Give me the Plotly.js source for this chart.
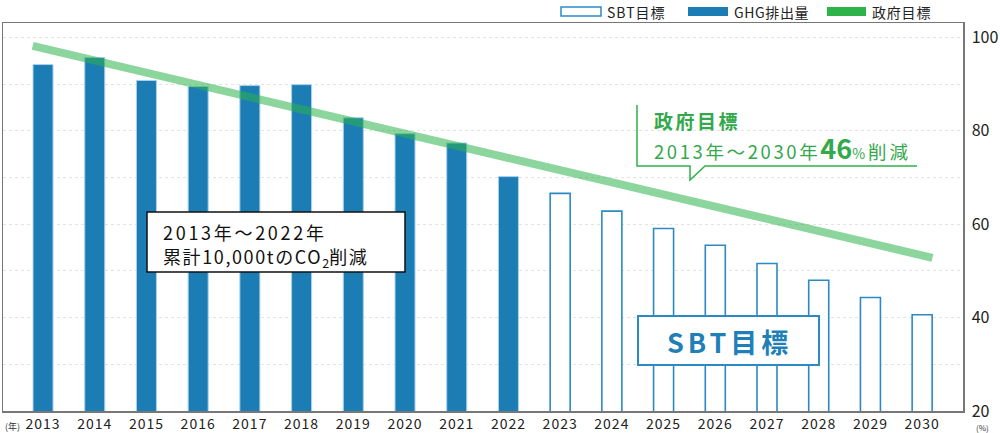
<!DOCTYPE html>
<html>
<head>
<meta charset="utf-8">
<script src="https://cdn.plot.ly/plotly-3.0.1.min.js"></script>
<style>html,body{margin:0;padding:0;background:#fff;}#chart{width:1000px;height:433px;}</style>
</head>
<body>
<div id="chart"></div>
<script>
// ---- data ----
const ghgYears = [2013, 2014, 2015, 2016, 2017, 2018, 2019, 2020, 2021, 2022];
const ghgValues = [94.2, 95.7, 90.8, 89.5, 89.7, 89.9, 82.8, 79.4, 77.4, 70.2];
const sbtYears = [2023, 2024, 2025, 2026, 2027, 2028, 2029, 2030];
const sbtValues = [66.6, 62.8, 59.1, 55.5, 51.6, 48.0, 44.3, 40.6];
const govYears = [2012.8, 2030.2];
const govValues = [98.2, 52.8];
const xTickYears = [2013,2014,2015,2016,2017,2018,2019,2020,2021,2022,2023,2024,2025,2026,2027,2028,2029,2030];
const yTickVals = [20, 40, 60, 80, 100];

const FONT = '"Noto Sans CJK JP", "Noto Sans", sans-serif';
const BLUE = '#1c7db5';
const OUTLINE = '#2b8ac6';
const GREEN = '#2db34a';
const GREEN_TXT = '#34a84c';

// pixel -> paper helpers (plot area: x 3..963, y 23..411)
const L = 3, R = 963, T = 23, B = 411;
const px = v => (v - L) / (R - L);
const py = v => (B - v) / (B - T);
const sp = (t, s) => `<span style="letter-spacing:${s}px">${t}</span>`;

const traces = [
  {type:'bar', x: sbtYears, y: sbtValues, width: 0.387,
   marker:{color:'#ffffff', line:{color: OUTLINE, width: 1.6}}, showlegend:false, hoverinfo:'skip'},
  {type:'bar', x: ghgYears, y: ghgValues, width: 0.387,
   marker:{color: BLUE, line:{color:'#a9d1ec', width: 1}}, showlegend:false, hoverinfo:'skip'},
  {type:'scatter', mode:'lines', x: govYears, y: govValues,
   line:{color:'rgba(45,179,74,0.55)', width: 8}, showlegend:false, hoverinfo:'skip'}
];

const shapes = [
  // legend swatches
  {type:'rect', xref:'paper', yref:'paper', x0:px(561), x1:px(601), y0:py(16), y1:py(7),
   line:{color: OUTLINE, width:1.5}, fillcolor:'#fff'},
  {type:'rect', xref:'paper', yref:'paper', x0:px(688), x1:px(728), y0:py(16), y1:py(7),
   line:{width:0}, fillcolor: BLUE},
  {type:'rect', xref:'paper', yref:'paper', x0:px(827), x1:px(866), y0:py(16), y1:py(7),
   line:{width:0}, fillcolor: GREEN},
  // green callout
  {type:'path', xref:'paper', yref:'paper',
   path: `M ${px(637)},${py(105)} L ${px(637)},${py(166)} L ${px(690)},${py(166)} L ${px(690)},${py(180)} L ${px(705)},${py(166)} L ${px(917)},${py(166)}`,
   line:{color: GREEN, width: 1.5}},
  // SBT box
  {type:'rect', xref:'paper', yref:'paper', x0:px(638), x1:px(819), y0:py(365), y1:py(316),
   line:{color: OUTLINE, width: 2}, fillcolor:'#fff', layer:'above'},
  // black box
  {type:'rect', xref:'paper', yref:'paper', x0:px(147), x1:px(405), y0:py(272), y1:py(212),
   line:{color:'#111', width: 1.5}, fillcolor:'#fff', layer:'above'}
];

const annotations = [
  // legend texts
  {xref:'paper', yref:'paper', x:px(605), y:py(12), xanchor:'left', yanchor:'middle', align:'left', showarrow:false,
   text:sp('SBT目標', 1), font:{family:FONT, size:14, color:'#222'}},
  {xref:'paper', yref:'paper', x:px(732), y:py(12), xanchor:'left', yanchor:'middle', align:'left', showarrow:false,
   text:sp('GHG排出量', 0.6), font:{family:FONT, size:14, color:'#222'}},
  {xref:'paper', yref:'paper', x:px(870), y:py(12), xanchor:'left', yanchor:'middle', align:'left', showarrow:false,
   text:sp('政府目標', 0.8), font:{family:FONT, size:14, color:'#222'}},
  // black box text
  {xref:'paper', yref:'paper', x:px(161), y:py(232), xanchor:'left', yanchor:'middle', align:'left', showarrow:false,
   text:sp('2013年～2022年', 2.7), font:{family:FONT, size:18, color:'#111'}},
  {xref:'paper', yref:'paper', x:px(161), y:py(257), xanchor:'left', yanchor:'middle', align:'left', showarrow:false,
   text:sp('累計10,000tのCO', 1.6) + '<sub>2</sub>' + sp('削減', 1.6), font:{family:FONT, size:18, color:'#111'}},
  // green callout text
  {xref:'paper', yref:'paper', x:px(652), y:py(120), xanchor:'left', yanchor:'middle', align:'left', showarrow:false,
   text:'<b>' + sp('政府目標', 2.5) + '</b>', font:{family:FONT, size:19, color: GREEN_TXT}},
  {xref:'paper', yref:'paper', x:px(652), y:py(147), xanchor:'left', yanchor:'middle', align:'left', showarrow:false,
   text: sp('2013年～2030年', 2.6) + '<span style="font-size:27px"><b>46</b></span><span style="font-size:14px;letter-spacing:3px">%</span>' + sp('削減', 3),
   font:{family:FONT, size:18.5, color: GREEN_TXT}},
  // SBT box text
  {xref:'paper', yref:'paper', x:px(729), y:py(341), xanchor:'center', yanchor:'middle', showarrow:false,
   text:'<b>' + sp('SBT目標', 4) + '</b>', font:{family:FONT, size:27, color: '#1f80b8'}},
  // unit labels
  {xref:'paper', yref:'paper', x:px(12), y:py(426), xanchor:'center', yanchor:'middle', showarrow:false,
   text:'(年)', font:{family:FONT, size:9, color:'#333'}},
  {xref:'paper', yref:'paper', x:px(983), y:py(427), xanchor:'center', yanchor:'middle', showarrow:false,
   text:'(%)', font:{family:FONT, size:8, color:'#333'}}
];

const layout = {
  width: 1000, height: 433,
  margin: {l: L, r: 1000 - R, t: T, b: 433 - B, pad: 0},
  paper_bgcolor: '#fff', plot_bgcolor: '#fff',
  barmode: 'overlay',
  showlegend: false,
  font: {family: FONT, color: '#222'},
  xaxis: {
    range: [2012.226, 2030.79], tickvals: xTickYears, ticktext: xTickYears.map(y => sp(String(y), 1)),
    showgrid: false, zeroline: false, showline: true, mirror: true,
    linecolor: '#777', linewidth: 1.5, ticks: '',
    tickfont: {family: FONT, size: 14, color: '#222'}
  },
  yaxis: {
    side: 'right', range: [20, 103.1], tickvals: yTickVals,
    showgrid: true, gridcolor: '#e3e3e3', griddash: 'dot', gridwidth: 1,
    minor: {dtick: 10, tick0: 0, showgrid: true, gridcolor: '#e3e3e3', griddash: 'dot', gridwidth: 1, ticks: ''},
    zeroline: false, showline: true, mirror: true, linecolor: '#777', linewidth: 1.5,
    ticks: '', ticklabelstandoff: 4, tickfont: {family: FONT, size: 16, color: '#222'}
  },
  shapes: shapes,
  annotations: annotations
};

Plotly.newPlot('chart', traces, layout, {displayModeBar: false, staticPlot: true});
</script>
</body>
</html>
